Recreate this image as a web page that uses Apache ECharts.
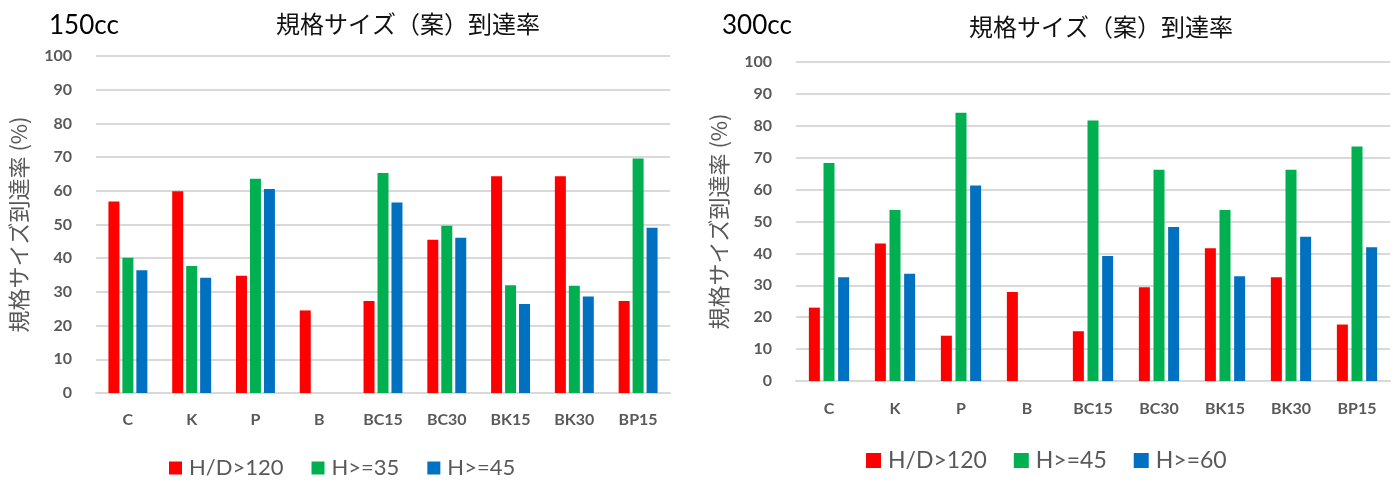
<!DOCTYPE html>
<html>
<head>
<meta charset="utf-8">
<script src="https://cdn.jsdelivr.net/npm/echarts@6/dist/echarts.min.js"></script>
<style>
  html, body { margin: 0; padding: 0; background: #fff; }
  #wrap { position: relative; width: 1400px; height: 482px; overflow: hidden; }
  .panel { position: absolute; top: 0; width: 700px; height: 482px; }
  #left { left: 0; }
  #right { left: 700px; }
</style>
</head>
<body>
<div id="wrap">
  <div id="left" class="panel"></div>
  <div id="right" class="panel"></div>
</div>
<script>
// Shared category axis and value ticks
const categories = ['C', 'K', 'P', 'B', 'BC15', 'BC30', 'BK15', 'BK30', 'BP15'];
const yTicks = { min: 0, max: 100, interval: 10 };

const mainTitle = '規格サイズ（案）到達率';
const yAxisName = '規格サイズ到達率 (%)';

// 150cc
const title150 = '150cc';
const names150 = ['H/D>120', 'H>=35', 'H>=45'];
const hd120_150 = [56.8, 59.9, 34.8, 24.5, 27.3, 45.5, 64.3, 64.3, 27.3];
const h35_150   = [40.1, 37.7, 63.6, null, 65.3, 49.6, 32.0, 31.8, 69.6];
const h45_150   = [36.4, 34.2, 60.5, null, 56.5, 46.1, 26.4, 28.6, 49.0];

// 300cc
const title300 = '300cc';
const names300 = ['H/D>120', 'H>=45', 'H>=60'];
const hd120_300 = [23.0, 43.1, 14.2, 27.9, 15.6, 29.4, 41.6, 32.5, 17.7];
const h45_300   = [68.3, 53.6, 84.1, null, 81.7, 66.2, 53.6, 66.2, 73.5];
const h60_300   = [32.5, 33.6, 61.3, null, 39.2, 48.3, 32.8, 45.2, 41.9];

const colors = ['#FF0000', '#00B050', '#0070C0'];
const grayText = '#595959';
const gridGray = '#D9D9D9';
const latin = 'Lato, "Noto Sans CJK JP", sans-serif';
const cjk = '"Noto Sans CJK JP", sans-serif';

function buildOption(cfg) {
  return {
    animation: false,
    color: colors,
    title: [
      {
        text: cfg.label,
        left: cfg.labelLeft, top: cfg.labelTop,
        textStyle: { fontFamily: latin, fontSize: 26, fontWeight: 'normal', color: '#000' }
      },
      {
        text: mainTitle,
        left: cfg.titleLeft, top: cfg.titleTop,
        textStyle: { fontFamily: cjk, fontSize: 24, fontWeight: 'normal', color: '#111' }
      }
    ],
    legend: {
      data: cfg.names,
      left: cfg.legendLeft, top: cfg.legendTop,
      icon: 'rect',
      itemWidth: cfg.legendSquare, itemHeight: cfg.legendSquare,
      itemGap: cfg.legendGap,
      textStyle: { fontFamily: latin, fontSize: cfg.legendFont, color: grayText, padding: [0, 0, 0, 2] }
    },
    grid: cfg.grid,
    xAxis: {
      type: 'category',
      data: categories,
      axisLine: { show: true, lineStyle: { color: gridGray, width: 2 } },
      axisTick: { show: false },
      axisLabel: { fontFamily: latin, fontSize: 16, fontWeight: 'bold', color: grayText, margin: cfg.xLabelMargin }
    },
    yAxis: {
      type: 'value',
      min: yTicks.min, max: yTicks.max, interval: yTicks.interval,
      name: yAxisName,
      nameLocation: 'middle',
      nameRotate: 90,
      nameGap: cfg.nameGap,
      nameTextStyle: { fontFamily: cjk, fontSize: 22, color: grayText },
      axisLine: { show: false },
      axisTick: { show: false },
      axisLabel: { fontFamily: latin, fontSize: 16, fontWeight: 'bold', color: grayText, margin: 24 },
      splitLine: { lineStyle: { color: gridGray, width: 2 } }
    },
    series: cfg.names.map((n, i) => ({
      name: n,
      type: 'bar',
      data: cfg.values[i],
      barWidth: 11,
      barGap: cfg.barGap
    }))
  };
}

const left = echarts.init(document.getElementById('left'), null, { renderer: 'canvas' });
left.setOption(buildOption({
  label: title150, labelLeft: 44, labelTop: 8,
  titleLeft: 271, titleTop: 7,
  names: names150,
  values: [hd120_150, h35_150, h45_150],
  grid: { left: 96, right: 30, top: 56, bottom: 89 },
  legendLeft: 164, legendTop: 452, legendSquare: 13, legendGap: 28, legendFont: 22,
  xLabelMargin: 19, nameGap: 66, barGap: '27%'
}));

const right = echarts.init(document.getElementById('right'), null, { renderer: 'canvas' });
right.setOption(buildOption({
  label: title300, labelLeft: 17, labelTop: 8,
  titleLeft: 264, titleTop: 10,
  names: names300,
  values: [hd120_300, h45_300, h60_300],
  grid: { left: 78, right: 10, top: 62, bottom: 101 },
  legendLeft: 161, legendTop: 444, legendSquare: 15, legendGap: 27, legendFont: 23,
  xLabelMargin: 20, nameGap: 66, barGap: '33%'
}));
</script>
</body>
</html>
